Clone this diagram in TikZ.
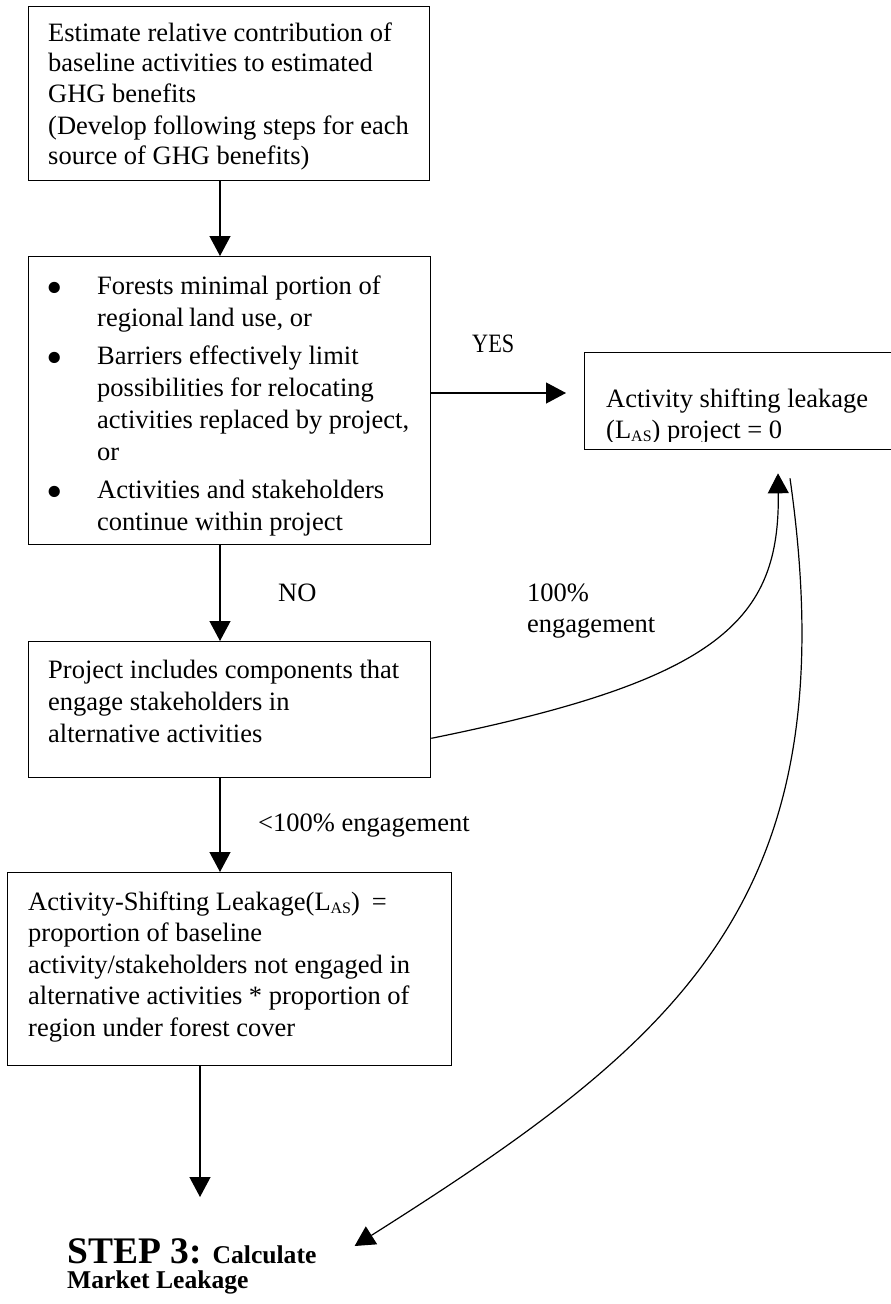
\documentclass[tikz,border=0pt]{standalone}
\usepackage{fontspec}
\setmainfont{Liberation Serif}
\usepackage{graphicx}
\usetikzlibrary{arrows.meta,calc}
\begin{document}
\begin{tikzpicture}[x=1pt,y=-1pt,
  box/.style={draw,line width=1.3pt,anchor=north west,inner sep=0pt},
  txt/.style={anchor=north west,inner sep=0pt,align=left,font=\fontsize{26.5}{31.5}\selectfont},
  lbl/.style={anchor=base west,inner sep=0pt,font=\fontsize{26.5}{31}\selectfont},
  arr/.style={line width=1.2pt,-{Triangle[length=20pt,width=21pt]}},
  curvearr/.style={line width=1.2pt,-{Triangle[length=20pt,width=21pt]}}]
\useasboundingbox (0,0) rectangle (891,1304);
\newcommand{\bul}{\makebox[49pt][l]{\hspace{-2pt}\raisebox{-9pt}{\fontsize{47}{47}\selectfont •}}}
\newcommand{\sublas}{\raisebox{-3pt}{\fontsize{16}{16}\selectfont AS}}
% boxes
\node[box,minimum width=401pt,minimum height=174pt] (b1) at (28,6) {};
\node[box,minimum width=402pt,minimum height=288pt] (b2) at (28,256) {};
\node[box,minimum width=309pt,minimum height=97pt] (b3) at (584,352) {};
\node[box,minimum width=402pt,minimum height=136pt] (b4) at (28,641) {};
\node[box,minimum width=444pt,minimum height=193pt] (b5) at (7,872) {};
% texts
\node[txt,font=\fontsize{26.5}{30.5}\selectfont] (t1) at (48,17) {\rule{0pt}{24pt}Estimate relative contribution of\\baseline activities to estimated\\GHG benefits\\[1.5pt](Develop following steps for each\\source of GHG benefits)};
\node[txt,font=\fontsize{26.5}{32}\selectfont] (t2) at (48,270) {\rule{0pt}{24pt}\bul Forests minimal portion of\\\hspace*{49pt}regional\hspace{5pt}land use, or\\[6pt]\bul Barriers effectively limit\\\hspace*{49pt}possibilities for relocating\\\hspace*{49pt}activities replaced by project,\\\hspace*{49pt}or\\[6pt]\bul Activities and stakeholders\\\hspace*{49pt}continue within project};
\begin{scope}
\clip (584,352) rectangle (893,441);
\node[txt,font=\fontsize{26.5}{31}\selectfont] (t3) at (606,383) {\rule{0pt}{24pt}Activity shifting leakage\\(L\sublas) project = 0};
\end{scope}
\node[txt,font=\fontsize{26.5}{32}\selectfont] (t4) at (48,654) {\rule{0pt}{24pt}Project includes components that\\engage stakeholders in\\alternative activities};
\node[txt] (t5) at (28,886) {\rule{0pt}{24pt}Activity-Shifting Leakage(L\sublas)\hspace{12pt}=\\proportion of baseline\\activity/stakeholders not engaged in\\alternative activities * proportion of\\region under forest cover};
\node[anchor=north west,inner sep=0pt,align=left,font=\bfseries\fontsize{25.6}{25}\selectfont] (step3) at (67,1233) {\rule{0pt}{30pt}{\fontsize{37.5}{37.5}\selectfont STEP 3:}\hspace{11pt}Calculate\\Market Leakage};
% labels
\node[lbl] (yes) at (472,352) {\scalebox{0.84}[1]{YES}};
\node[lbl] (no) at (278,601) {NO};
\node[lbl,align=left,anchor=north west] (full) at (527,577) {\rule{0pt}{24pt}100\%\\engagement};
\node[lbl] (part) at (258,831) {<100\% engagement};
% connectors
\coordinate (ax) at (220,0);
\coordinate (ax2) at (200,0);
\coordinate (ay) at (0,393);
\draw[arr] (b1.south -| ax) -- (b2.north -| ax);
\draw[arr,shorten >=18pt] (b2.east |- ay) -- (b3.west |- ay);
\draw[arr] (b2.south -| ax) -- (b4.north -| ax);
\draw[arr] (b4.south -| ax) -- (b5.north -| ax);
\draw[arr,shorten >=36pt] (b5.south -| ax2) -- (step3.north -| ax2);
\draw[curvearr] ($(b4.south east)+(0,-40)$) .. controls (720,680) and (780,620) .. ($(b3.south west)+(194,23)$);
\draw[curvearr] ($(b3.south west)+(206,28)$) .. controls (850,900) and (680,1040) .. ($(step3.north east)+(38,13)$);
\end{tikzpicture}
\end{document}
